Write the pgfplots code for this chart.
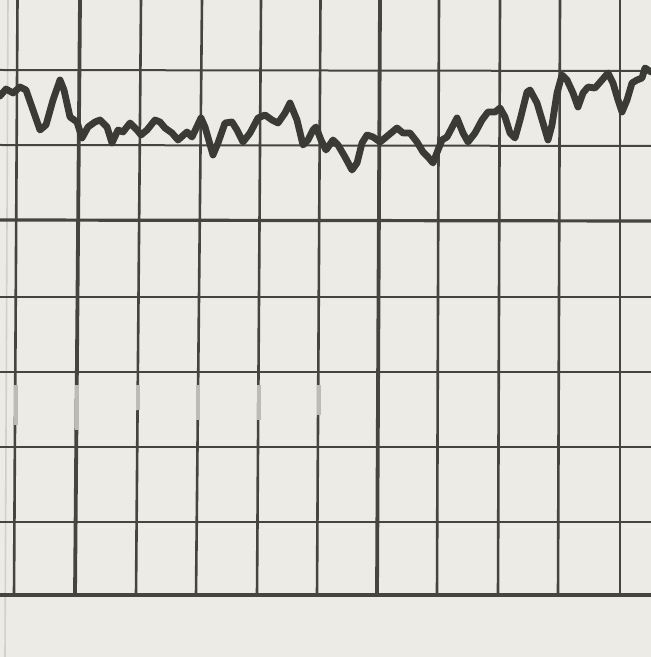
\documentclass[border=0pt]{standalone}
\usepackage{pgfplots}
\pgfplotsset{compat=1.18}
\definecolor{paper}{HTML}{EDEBE5}
\definecolor{gridc}{HTML}{45453F}
\definecolor{penc}{HTML}{3A3A36}
\definecolor{edgec}{HTML}{D2D0CA}
\definecolor{fadec}{HTML}{BDBBB5}
\begin{document}
\begin{tikzpicture}
\fill[paper] (0,0) rectangle (325.5pt,328.5pt);
\useasboundingbox (0,0) rectangle (325.5pt,328.5pt);
\begin{axis}[at={(0,0)}, anchor=south west, scale only axis,
  width=325.5pt, height=328.5pt,
  xmin=0, xmax=651, ymin=0, ymax=657, y dir=reverse,
  hide axis, clip=true,
  lgrid/.style={gridc, line width=1pt},
  hgrid/.style={gridc, line width=1.6pt},
  vgrid/.style={gridc, line width=1.3pt},
  vgridh/.style={gridc, line width=1.9pt}]
% paper edge
\addplot[edgec, line width=0.8pt] coordinates {(8,0) (5,657)};
% horizontal rulings
\addplot[lgrid] coordinates {(0,70) (651,71)};
\addplot[lgrid] coordinates {(0,145) (651,146)};
\addplot[hgrid] coordinates {(0,220) (651,221)};
\addplot[lgrid] coordinates {(0,297) (651,297)};
\addplot[lgrid] coordinates {(0,372) (651,372)};
\addplot[lgrid] coordinates {(0,447) (651,447)};
\addplot[lgrid] coordinates {(0,522) (651,522)};
\addplot[gridc, line width=1.8pt] coordinates {(0,595) (651,595)};
% vertical rulings
\addplot[vgrid]  coordinates {(17.5,0) (14,595)};
\addplot[vgridh] coordinates {(80,0) (75,595)};
\addplot[vgrid]  coordinates {(141,0) (136,595)};
\addplot[vgrid]  coordinates {(202,0) (196,595)};
\addplot[vgrid]  coordinates {(261,0) (257,595)};
\addplot[vgrid]  coordinates {(320.5,0) (317,595)};
\addplot[vgridh] coordinates {(380,0) (377,595)};
\addplot[vgrid]  coordinates {(439,0) (437,595)};
\addplot[vgrid]  coordinates {(500,0) (498,595)};
\addplot[vgrid]  coordinates {(560,0) (558,595)};
\addplot[vgrid]  coordinates {(620,0) (620,595)};
% faded scan patches on the rulings
\addplot[fadec, line width=1.6pt] coordinates {(16,385) (16,425)};
\addplot[fadec, line width=1.6pt] coordinates {(77,385) (77,430)};
\addplot[fadec, line width=1.6pt] coordinates {(138,385) (138,410)};
\addplot[fadec, line width=1.6pt] coordinates {(198,385) (198,420)};
\addplot[fadec, line width=1.6pt] coordinates {(259,385) (259,420)};
\addplot[fadec, line width=1.6pt] coordinates {(319,385) (319,415)};
% recorded trace
\addplot[penc, line width=3.4pt, line join=round, line cap=round] coordinates {
(0,96) (6,89) (13,93) (20,87) (26,90) (33,110) (40,130) (46,125) (53,100) (60,80)
(64,90) (70,117) (77,122) (82,138) (88,127) (95,122) (100,120) (107,127) (112,143)
(118,130) (123,132) (130,123) (137,130) (141,135) (147,130) (155,120) (160,122)
(165,128) (172,133) (178,140) (187,132) (192,137) (201,118) (205,127) (213,155)
(218,143) (225,123) (232,122) (237,130) (243,142) (250,133) (258,118) (265,115)
(272,120) (278,123) (285,113) (290,103) (297,120) (303,145) (308,140) (313,130)
(316,127) (321,140) (326,150) (333,140) (338,145) (345,157) (352,170) (357,163)
(362,143) (367,135) (373,137) (380,142) (385,138) (397,128) (403,133) (410,133)
(417,142) (423,152) (428,157) (433,163) (438,150) (442,140) (447,137) (457,118)
(463,133) (468,142) (475,133) (482,120) (488,112) (495,112) (500,108) (505,117)
(510,133) (515,138) (520,120) (527,92) (530,90) (537,103) (543,123) (548,140)
(552,125) (557,93) (562,75) (567,80) (573,93) (578,107) (583,93) (588,87) (595,88)
(602,80) (608,73) (613,83) (618,100) (622,112) (627,100) (632,83) (637,80) (642,78)
(645,68) (651,72)};
\end{axis}
\end{tikzpicture}
\end{document}
